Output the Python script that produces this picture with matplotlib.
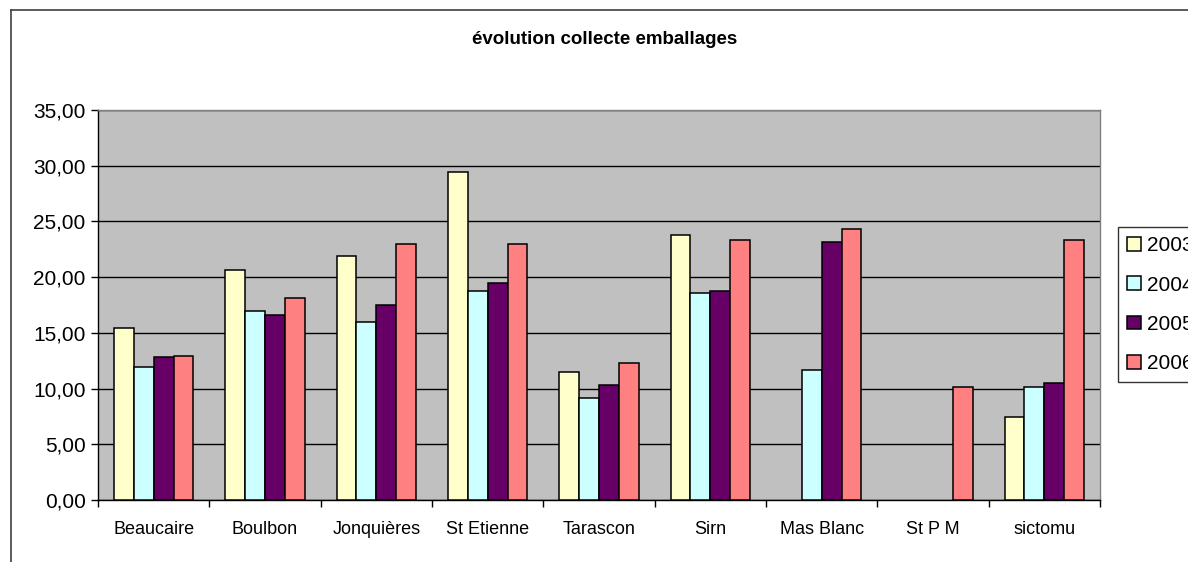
import matplotlib
matplotlib.use("Agg")
import matplotlib.pyplot as plt
from matplotlib.lines import Line2D
import numpy as np

plt.rcParams['font.family'] = ['Liberation Sans', 'DejaVu Sans']

categories = ["Beaucaire", "Boulbon", "Jonquières", "St Etienne", "Tarascon",
              "Sirn", "Mas Blanc", "St P M", "sictomu"]
years = ["2003", "2004", "2005", "2006"]
nan = float("nan")
v2003 = [15.47, 20.65, 21.93, 29.47, 11.49, 23.79, nan, nan, 7.45]
v2004 = [11.97, 17.00, 15.95, 18.76, 9.13, 18.61, 11.64, nan, 10.11]
v2005 = [12.80, 16.64, 17.50, 19.45, 10.30, 18.79, 23.13, nan, 10.47]
v2006 = [12.95, 18.13, 22.95, 22.95, 12.33, 23.34, 24.30, 10.11, 23.31]
series = [v2003, v2004, v2005, v2006]
colors = ["#FFFFCC", "#CCFFFF", "#660066", "#FF8080"]
yticks = [0, 5, 10, 15, 20, 25, 30, 35]

W, H = 1188, 562
fig = plt.figure(figsize=(W / 100, H / 100), dpi=100)
fig.patch.set_facecolor("white")

ax = fig.add_axes([98 / W, (H - 500) / H, (1100 - 98) / W, (500 - 110) / H])
ax.set_facecolor("#C0C0C0")

x = np.arange(len(categories))
bw = 1 / 1.4 / 4
for i, (vals, c, yr) in enumerate(zip(series, colors, years)):
    ax.bar(x - 2 * bw + (i + 0.5) * bw, vals, width=bw, color=c,
           edgecolor="black", linewidth=1.1, label=yr, zorder=3)

ax.set_xlim(-0.5, len(categories) - 0.5)
ax.set_ylim(0, 35)
ax.set_yticks(yticks)
ax.set_yticklabels([f"{v:.2f}".replace(".", ",") for v in yticks], fontsize=15)
ax.yaxis.grid(True, color="black", linewidth=1.0, zorder=1)
ax.set_axisbelow(True)

ax.set_xticks(x)
ax.set_xticklabels(categories, fontsize=13)
ax.tick_params(axis="x", which="major", length=0, pad=15)
ax.set_xticks(np.arange(len(categories) + 1) - 0.5, minor=True)
ax.tick_params(axis="x", which="minor", length=5, width=1, color="black")
ax.tick_params(axis="y", length=5, width=1, pad=4)

for s in ["top", "right"]:
    ax.spines[s].set_color("#808080")
    ax.spines[s].set_linewidth(1)
for s in ["left", "bottom"]:
    ax.spines[s].set_color("black")
    ax.spines[s].set_linewidth(1)

fig.text(605 / W, 1 - 40 / H, "évolution collecte emballages", ha="center",
         va="center", fontsize=13.5, fontweight="bold")

leg = fig.legend(loc="upper left", bbox_to_anchor=(1118 / W, 1 - 227 / H),
                 fontsize=15, frameon=True, fancybox=False, edgecolor="black",
                 handlelength=0.65, handleheight=0.65, handletextpad=0.3,
                 labelspacing=0.97, borderpad=0.45, borderaxespad=0)
leg.get_frame().set_linewidth(1)

fig.add_artist(Line2D([10.5 / W, 10.5 / W], [0, 1 - 10 / H], transform=fig.transFigure,
                      color="#404040", linewidth=1.2))
fig.add_artist(Line2D([10.5 / W, 1], [1 - 10 / H, 1 - 10 / H], transform=fig.transFigure,
                      color="#404040", linewidth=1.2))

fig.savefig("out.png", dpi=100)
